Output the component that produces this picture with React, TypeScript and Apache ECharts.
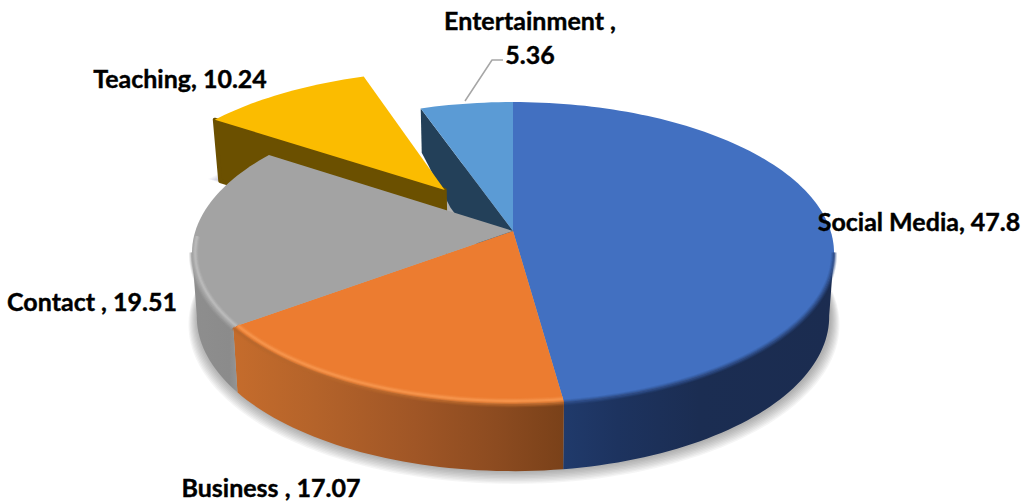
import React, { useEffect, useRef } from "react";
import * as echarts from "echarts";

// Share of each activity, in percent, clockwise from twelve o'clock
const categories = ["Social Media", "Business", "Contact", "Teaching", "Entertainment"];
const shares = [47.8, 17.07, 19.51, 10.24, 5.36];
const labelTexts = [
  "Social Media, 47.8",
  "Business , 17.07",
  "Contact , 19.51",
  "Teaching, 10.24",
  "Entertainment ,\n5.36",
];
const topColors = ["#4270c1", "#ec7c30", "#a3a3a3", "#fbbc00", "#5b9bd5"];
const explodedIndex = 3;
const innerFaceIndex = 4;

// Perspective of the tilted disc: unit-circle (u, v) to page pixels
const CX = 513;
const PERSP = -0.1457;
const RADIUS_X = 317.6;
const TOP = { sx: 1, a: 114.1, b: 231 };
const BOTTOM = { sx: 0.985, a: 108.5, b: 294 };
const EXPLODE = 0.366;

type Pt = [number, number];
type Plane = { sx: number; a: number; b: number };

const project = (u: number, v: number, plane: Plane): Pt => {
  const w = 1 + PERSP * v;
  return [CX + (plane.sx * RADIUS_X * u) / w, (plane.a * v + plane.b) / w];
};
const mix = (p: Pt, q: Pt, t: number): Pt => [p[0] + (q[0] - p[0]) * t, p[1] + (q[1] - p[1]) * t];

const total = shares.reduce((s, x) => s + x, 0);
const spanOf = (index: number): [number, number] => {
  let before = 0;
  for (let i = 0; i < index; i++) before += shares[i];
  return [(before / total) * 360, ((before + shares[index]) / total) * 360];
};
const RAD = Math.PI / 180;

// Slice offset in the disc's own plane, non-zero only for the pulled-out slice
const offsetOf = (index: number): [number, number] => {
  if (index !== explodedIndex) return [0, 0];
  const [a, b] = spanOf(index);
  const mid = ((a + b) / 2) * RAD;
  return [EXPLODE * Math.sin(mid), -EXPLODE * Math.cos(mid)];
};

const rimPoint = (index: number, deg: number, plane: Plane, r = 1): Pt => {
  const [ou, ov] = offsetOf(index);
  return project(ou + r * Math.sin(deg * RAD), ov - r * Math.cos(deg * RAD), plane);
};
const arcPoints = (index: number, from: number, to: number, plane: Plane, r = 1): Pt[] => {
  const steps = Math.max(2, Math.ceil(Math.abs(to - from) / 1.5));
  const pts: Pt[] = [];
  for (let k = 0; k <= steps; k++) pts.push(rimPoint(index, from + ((to - from) * k) / steps, plane, r));
  return pts;
};

// The wall only shows between the two silhouette tangents of the disc
const WALL_FROM = 98;
const WALL_TO = 262;
const wallRange = (index: number): [number, number] | null => {
  const [a, b] = spanOf(index);
  const from = Math.max(a, WALL_FROM);
  const to = Math.min(b, WALL_TO);
  return to > from ? [from, to] : null;
};

const hGrad = (x0: number, x1: number, stops: [number, string][]) =>
  new echarts.graphic.LinearGradient(x0, 0, x1, 0, stops.map(([offset, color]) => ({ offset, color })), true);

const wallFills: Record<number, any> = {
  0: hGrad(564, 835, [[0, "#203a6b"], [0.2, "#1d335f"], [0.5, "#1b2d52"], [1, "#1b2c50"]]),
  1: hGrad(233, 563, [[0, "#c56c2c"], [0.25, "#b4632a"], [0.55, "#a05626"], [0.8, "#8c4b20"], [1, "#7a4119"]]),
  2: hGrad(192, 236, [[0, "#8e8e8e"], [0.85, "#8b8b8b"], [1, "#939393"]]),
};
const edgeStyles: Record<number, { glow: string | null; seam: string; glowTo: number; inset: number }> = {
  0: { glow: null, seam: "#2d4c88", glowTo: 0, inset: 1 },
  1: { glow: "#f6964e", seam: "#b8672c", glowTo: 0, inset: 0.985 },
  2: { glow: "#bcbcbc", seam: "#a0a0a0", glowTo: 268, inset: 0.99 },
};

const poly = (points: Pt[], style: any) => ({ type: "polygon", shape: { points }, style });
const line = (points: Pt[], style: any) => ({
  type: "polyline",
  shape: { points },
  style: { fill: "none", lineJoin: "round", lineCap: "butt", ...style },
});

// Three nested strokes give a line a feathered edge
const softLine = (points: Pt[], color: string, width: number) => [
  line(points, { stroke: color, lineWidth: width * 2, opacity: 0.22 }),
  line(points, { stroke: color, lineWidth: width * 1.35, opacity: 0.35 }),
  line(points, { stroke: color, lineWidth: width * 0.7, opacity: 0.75 }),
];

// Cast shadow under the disc, built from widening translucent copies of its base
const SHADOW_STEPS = [1, 2, 3, 4, 5, 6, 7, 8, 9];
const drawShadow = (index: number) => {
  if (index !== 0 && index !== explodedIndex) return null;
  const children = SHADOW_STEPS.map((k) => {
    const grow = 1 + k * (index === 0 ? 0.0032 : 0.006);
    const points =
      index === 0
        ? arcPoints(0, 0, 360, BOTTOM, grow)
        : [rimPoint(index, spanOf(index)[0], BOTTOM, 0), ...arcPoints(index, spanOf(index)[0], spanOf(index)[1], BOTTOM, grow)];
    return poly(
      points.map(([x, y]): Pt => [x + (index === 0 ? 1 : 0), y + k * (index === 0 ? 0.75 : 0.3)]),
      { fill: index === 0 ? "#3a3a3a" : "#3a4a7a", opacity: index === 0 ? 0.05 : 0.03 },
    );
  });
  return { type: "group", children };
};

const drawInnerFace = (index: number) => {
  if (index !== innerFaceIndex) return null;
  const [a] = spanOf(index);
  const topCorner = rimPoint(index, a, TOP);
  const lowCorner = mix(topCorner, rimPoint(index, a, BOTTOM), 0.74);
  return poly(
    [topCorner, lowCorner, rimPoint(index, a, BOTTOM, 0.66), rimPoint(index, a, BOTTOM, 0), rimPoint(index, a, TOP, 0)],
    { fill: "#234059" },
  );
};

const drawExplodedFace = (index: number) => {
  if (index !== explodedIndex) return null;
  const [a] = spanOf(index);
  const lower = rimPoint(index, a, BOTTOM);
  return poly(
    [rimPoint(index, a, TOP), [lower[0] + 1, lower[1] + 1], rimPoint(index, a, BOTTOM, 0), rimPoint(index, a, TOP, 0)],
    { fill: "#6b5000", stroke: "#6b5000", lineWidth: 4, lineJoin: "round" },
  );
};

const drawWall = (index: number) => {
  const range = wallRange(index);
  if (!range) return null;
  const upper = arcPoints(index, range[0], range[1], TOP);
  const lower = arcPoints(index, range[0], range[1], BOTTOM).reverse();
  return poly([...upper, ...lower], { fill: wallFills[index] });
};

const drawTop = (index: number) => {
  const [a, b] = spanOf(index);
  return poly([rimPoint(index, a, TOP, 0), ...arcPoints(index, a, b, TOP)], { fill: topColors[index] });
};

// Soft bevel along the front of the disc's upper edge
const drawEdge = (index: number) => {
  const range = wallRange(index);
  if (!range) return null;
  const style = edgeStyles[index];
  const seam = arcPoints(index, range[0], range[1], TOP, 1).map(([x, y]): Pt => [x, y + 0.5]);
  const children = [...softLine(seam, style.seam, 3)];
  if (style.glow) {
    const glowEnd = style.glowTo || range[1];
    children.push(...softLine(arcPoints(index, range[0], glowEnd, TOP, style.inset), style.glow, 3));
  }
  return { type: "group", children };
};

const labelAnchors: Pt[] = [
  [919, 221],
  [271, 487],
  [92, 301],
  [180, 78],
  [530, 37],
];

const drawLabel = (index: number) => ({
  type: "text",
  x: labelAnchors[index][0],
  y: labelAnchors[index][1],
  style: {
    text: labelTexts[index],
    fill: "#000000",
    stroke: "#000000",
    lineWidth: 0.4,
    font: 'bold 25px Lato, "Open Sans", sans-serif',
    lineHeight: index === innerFaceIndex ? 34 : 26,
    align: "center",
    verticalAlign: "middle",
  },
});

const drawLeader = (index: number) =>
  index === innerFaceIndex
    ? line(
        [
          [465, 101],
          [492, 60],
          [503, 60],
        ],
        { stroke: "#a6a6a6", lineWidth: 1.5 },
      )
    : null;

const layer = (z: number, draw: (index: number) => any) => ({
  type: "custom",
  coordinateSystem: "none",
  z,
  silent: true,
  clip: false,
  data: categories.map((name, i) => ({ name, value: [shares[i]] })),
  renderItem: (params: any) => draw(params.dataIndex) ?? { type: "group", children: [] },
});

export default function App() {
  const host = useRef<HTMLDivElement>(null);
  useEffect(() => {
    if (!host.current) return;
    const chart = echarts.init(host.current, undefined, { renderer: "svg" });
    chart.setOption({
      animation: false,
      backgroundColor: "#ffffff",
      series: [
        layer(1, drawShadow),
        layer(2, drawInnerFace),
        layer(3, drawExplodedFace),
        layer(4, drawWall),
        layer(5, drawTop),
        layer(6, drawEdge),
        layer(7, drawLeader),
        layer(8, drawLabel),
      ],
    });
    return () => chart.dispose();
  }, []);
  return <div ref={host} style={{ position: "fixed", left: 0, top: 0, width: 1028, height: 501 }} />;
}
